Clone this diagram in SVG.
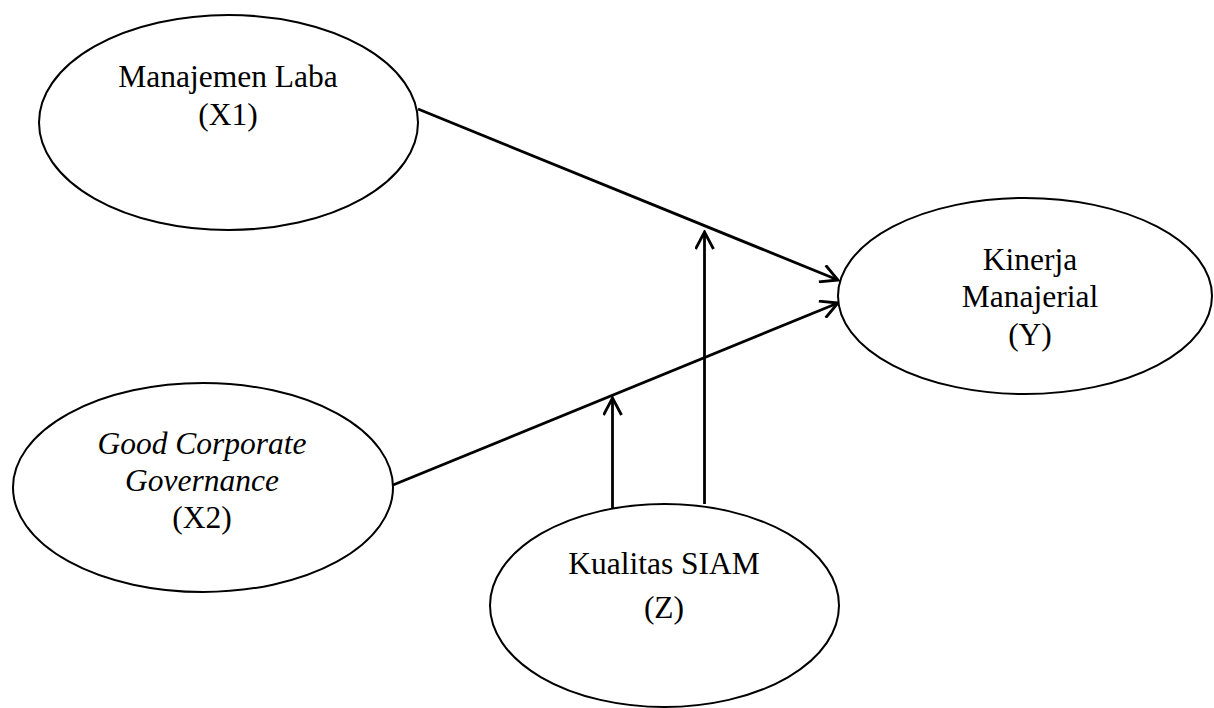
<svg xmlns="http://www.w3.org/2000/svg" width="1214" height="708" viewBox="0 0 1214 708">
  <style>
    .node { fill: #ffffff; stroke: #000000; stroke-width: 2; }
    .label { font-family: "Liberation Serif", "Times New Roman", serif; font-size: 31.5px; fill: #000000; text-anchor: middle; }
    .it { font-style: italic; }
    .edge { stroke: #000000; stroke-width: 2.8; fill: none; marker-end: url(#open-arrow); }
  </style>
  <defs>
    <marker id="open-arrow" viewBox="0 0 20 20" refX="18" refY="10" markerWidth="20" markerHeight="20" markerUnits="userSpaceOnUse" orient="auto">
      <path d="M1,1 L18,10 L1,19" fill="none" stroke="#000000" stroke-width="2.8" stroke-linecap="butt" stroke-linejoin="miter"/>
    </marker>
  </defs>
  <rect width="1214" height="708" fill="#ffffff"/>

  <!-- connectors -->
  <g id="connectors">
    <line class="edge" x1="418" y1="109" x2="838" y2="280"/>
    <line class="edge" x1="393" y1="485" x2="838" y2="303"/>
    <line class="edge" x1="612.5" y1="519" x2="612.5" y2="398"/>
    <line class="edge" x1="704.5" y1="504" x2="704.5" y2="232"/>
  </g>

  <!-- Manajemen Laba -->
  <g id="node-x1">
    <ellipse class="node" cx="228.5" cy="122.5" rx="189.5" ry="107.5"/>
    <text class="label" x="228" y="87">Manajemen Laba</text>
    <text class="label" x="228" y="125">(X1)</text>
  </g>

  <!-- Good Corporate Governance -->
  <g id="node-x2">
    <ellipse class="node" cx="203" cy="487.5" rx="190" ry="104.5"/>
    <text class="label it" x="202" y="454">Good Corporate</text>
    <text class="label it" x="202" y="491">Governance</text>
    <text class="label" x="202" y="528">(X2)</text>
  </g>

  <!-- Kinerja Manajerial -->
  <g id="node-y">
    <ellipse class="node" cx="1025" cy="296" rx="187" ry="98"/>
    <text class="label" x="1030" y="270">Kinerja</text>
    <text class="label" x="1030" y="307">Manajerial</text>
    <text class="label" x="1030" y="345">(Y)</text>
  </g>

  <!-- Kualitas SIAM -->
  <g id="node-z">
    <ellipse class="node" cx="664.5" cy="605.5" rx="174.5" ry="101.5"/>
    <text class="label" x="664" y="574">Kualitas SIAM</text>
    <text class="label" x="664" y="618">(Z)</text>
  </g>
</svg>
